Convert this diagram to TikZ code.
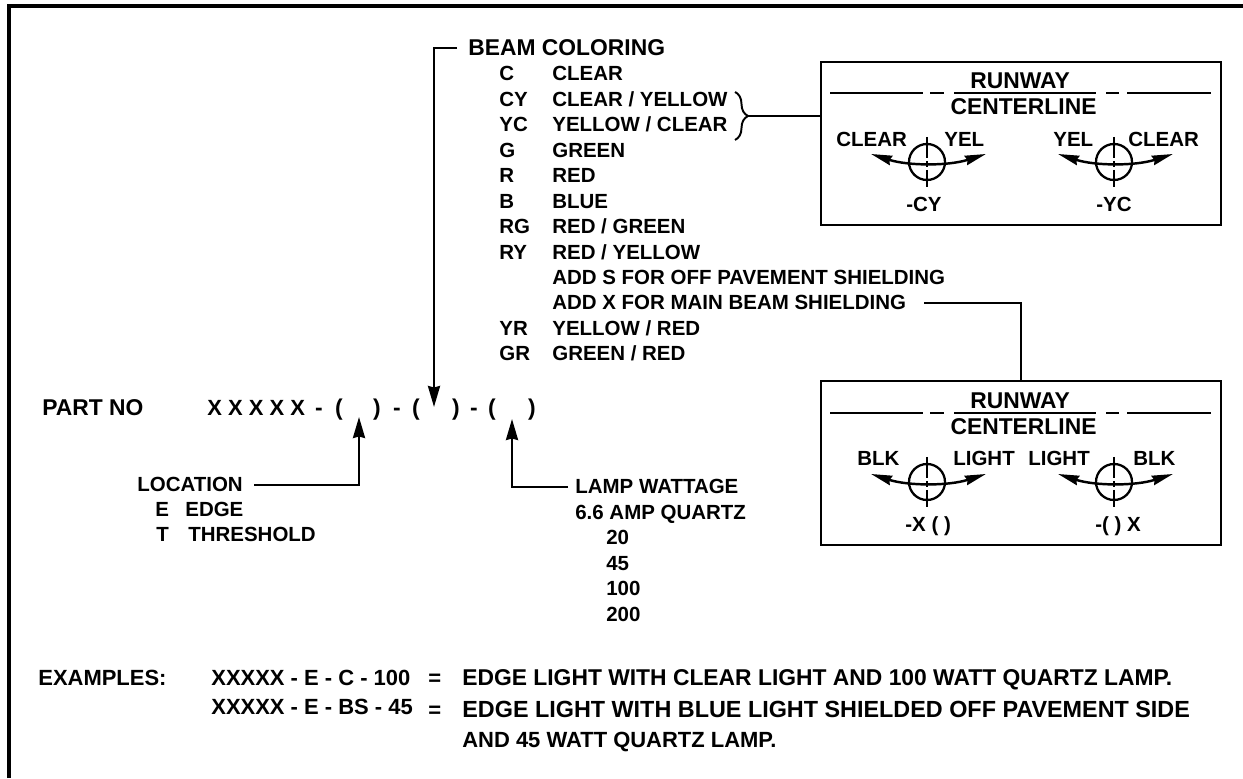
\documentclass[tikz,border=0pt]{standalone}
\usepackage{fontspec}
\setmainfont{Liberation Sans}
\usepackage{tikz}
\usetikzlibrary{arrows.meta}
\usetikzlibrary{decorations.pathreplacing}
\tikzset{
    txt/.style={anchor=base west, inner sep=0pt, font=\bfseries\fontsize{11.65}{14}\selectfont},
    midtxt/.style={txt, font=\bfseries\fontsize{12.5}{15}\selectfont},
    bigtxt/.style={txt, font=\bfseries\fontsize{13}{16}\selectfont},
    widetxt/.style={txt, font=\bfseries\fontsize{13.3}{16}\selectfont},
    leader/.style={line width=1.4pt, -{Stealth[length=0.42cm, width=0.24cm, inset=0.03cm]}},
    sweep/.style={line width=1.4pt, {Stealth[length=0.42cm, width=0.19cm, inset=0.03cm]}-{Stealth[length=0.42cm, width=0.19cm, inset=0.03cm]}},
    panel/.style={draw, line width=1.4pt, minimum width=8cm, inner sep=0pt}
}
\begin{document}
\begin{tikzpicture}
        \useasboundingbox (0,0) rectangle (24.86,15.56);
        \draw[line width=1.9pt] (0.18,0) -- (0.18,15.44) -- (24.86,15.44);

        \node[bigtxt] (beam) at (9.36,14.44) {BEAM COLORING};
        \foreach \i/\abbr/\beamname in {0/C/CLEAR, 1/CY/{CLEAR / YELLOW}, 2/YC/{YELLOW / CLEAR}, 3/G/GREEN, 4/R/RED, 5/B/BLUE, 6/RG/{RED / GREEN}, 7/RY/{RED / YELLOW}, 10/YR/{YELLOW / RED}, 11/GR/{GREEN / RED}} {
            \node[txt] (code\i) at (9.98,{13.94-0.509*\i}) {\abbr};
            \node[txt] (row\i) at (11.04,{13.94-0.509*\i}) {\beamname};
        }
        \node[txt] (adds) at (11.04,9.87) {ADD S FOR OFF PAVEMENT SHIELDING};
        \node[txt] (addx) at (11.04,9.36) {ADD X FOR MAIN BEAM SHIELDING};

        \node[panel, minimum height=3.26cm] (boxa) at (20.42,12.69) {};
        \node[panel, minimum height=3.28cm] (boxb) at (20.42,6.30) {};

        \foreach \yy in {13.70,7.30} {
            \draw[line width=1.1pt] (16.60,\yy) -- (18.46,\yy);
            \draw[line width=1.1pt] (18.60,\yy) -- (18.88,\yy);
            \draw[line width=1.1pt] (19.08,\yy) -- (21.92,\yy);
            \draw[line width=1.1pt] (22.12,\yy) -- (22.38,\yy);
            \draw[line width=1.1pt] (22.54,\yy) -- (24.22,\yy);
            \node[bigtxt, anchor=base] (runway\yy) at (20.40,{\yy+0.08}) {RUNWAY};
            \node[bigtxt, anchor=base] (centerline\yy) at (20.47,{\yy-0.44}) {CENTERLINE};
        }
        \foreach \cx/\cy in {18.54/12.32, 22.28/12.32, 18.54/5.92, 22.28/5.92} {
            \draw[line width=1.3pt] (\cx,\cy) circle (0.36);
            \draw[line width=1.1pt, dash pattern=on 0.42cm off 0.06cm on 0.12cm off 0.06cm on 0.4cm] (\cx,{\cy+0.5}) -- (\cx,{\cy-0.5});
            \draw[sweep] ({\cx-1.12},{\cy+0.16}) arc[start angle=252.2, end angle=287.8, radius=3.76];
        }

        \node[txt] (cleara) at (16.72,12.62) {CLEAR};
        \node[txt] (yela) at (18.88,12.62) {YEL};
        \node[txt] (yelb) at (21.06,12.62) {YEL};
        \node[txt] (clearb) at (22.56,12.62) {CLEAR};
        \node[txt] (cy) at (18.12,11.32) {-CY};
        \node[txt] (yc) at (21.92,11.32) {-YC};
        \node[txt] (blka) at (17.14,6.24) {BLK};
        \node[txt] (lighta) at (19.06,6.24) {LIGHT};
        \node[txt] (lightb) at (20.56,6.24) {LIGHT};
        \node[txt] (blkb) at (22.66,6.24) {BLK};
        \node[txt] (xopen) at (18.10,4.92) {-X ( )};
        \node[txt] (openx) at (21.90,4.92) {-( ) X};

        \coordinate (bracetop) at (14.7,13.72);
        \coordinate (bracebot) at (14.7,12.76);
        \coordinate (bracetip) at (14.96,13.24);
        \draw[line width=1.1pt, decorate, decoration={brace, amplitude=0.26cm}] (bracetop) -- (bracebot);
        \draw[line width=1.4pt] (bracetip) -- (bracetip -| boxa.west);
        \draw[line width=1.4pt] ([xshift=0.36cm]addx.east) -| (boxb.north);

        \node[bigtxt] (partno) at (0.84,7.24) {PART NO};
        \node[midtxt] (xes) at (4.14,7.24) {X X X X X};
        \foreach \i/\x/\glyph in {1/6.38/{-}, 2/6.78/{(}, 3/7.54/{)}, 4/7.94/{-}, 5/8.32/{(}, 6/9.12/{)}, 7/9.48/{-}, 8/9.84/{(}, 9/10.64/{)}} {
            \node[bigtxt, anchor=base] (glyph\i) at (\x,7.24) {\glyph};
        }
        \coordinate (beamslot) at (8.68,7.42);
        \coordinate (locslot) at (7.18,7.22);
        \coordinate (lampslot) at (10.24,7.18);
        \draw[leader] ([xshift=-0.22cm]beam.west) -| (beamslot);

        \node[txt] (loc) at (2.74,5.72) {LOCATION};
        \node[txt] (e) at (3.10,5.22) {E};
        \node[txt] (edge) at (3.70,5.22) {EDGE};
        \node[txt] (t) at (3.12,4.72) {T};
        \node[txt] (threshold) at (3.76,4.72) {THRESHOLD};
        \draw[leader] ([xshift=0.22cm]loc.east) -| (locslot);

        \node[txt] (lamp) at (11.50,5.68) {LAMP WATTAGE};
        \node[txt] (quartz) at (11.50,5.16) {6.6 AMP QUARTZ};
        \foreach \w/\yy in {20/4.66, 45/4.14, 100/3.64, 200/3.12} {
            \node[txt] (watt\w) at (12.12,\yy) {\w};
        }
        \draw[leader] ([xshift=-0.14cm]lamp.west) -| (lampslot);

        \node[midtxt] (examples) at (0.76,1.86) {EXAMPLES:};
        \node[midtxt] (exa) at (4.22,1.86) {XXXXX - E - C - 100};
        \node[midtxt] (eqa) at (8.56,1.86) {=};
        \node[bigtxt] (lineone) at (9.24,1.86) {EDGE LIGHT WITH CLEAR LIGHT AND 100 WATT QUARTZ LAMP.};
        \node[midtxt] (exb) at (4.22,1.28) {XXXXX - E - BS - 45};
        \node[midtxt] (eqb) at (8.56,1.22) {=};
        \node[widetxt] (linetwo) at (9.24,1.22) {EDGE LIGHT WITH BLUE LIGHT SHIELDED OFF PAVEMENT SIDE};
        \node[midtxt] (linethree) at (9.24,0.62) {AND 45 WATT QUARTZ LAMP.};
    \end{tikzpicture}
\end{document}
